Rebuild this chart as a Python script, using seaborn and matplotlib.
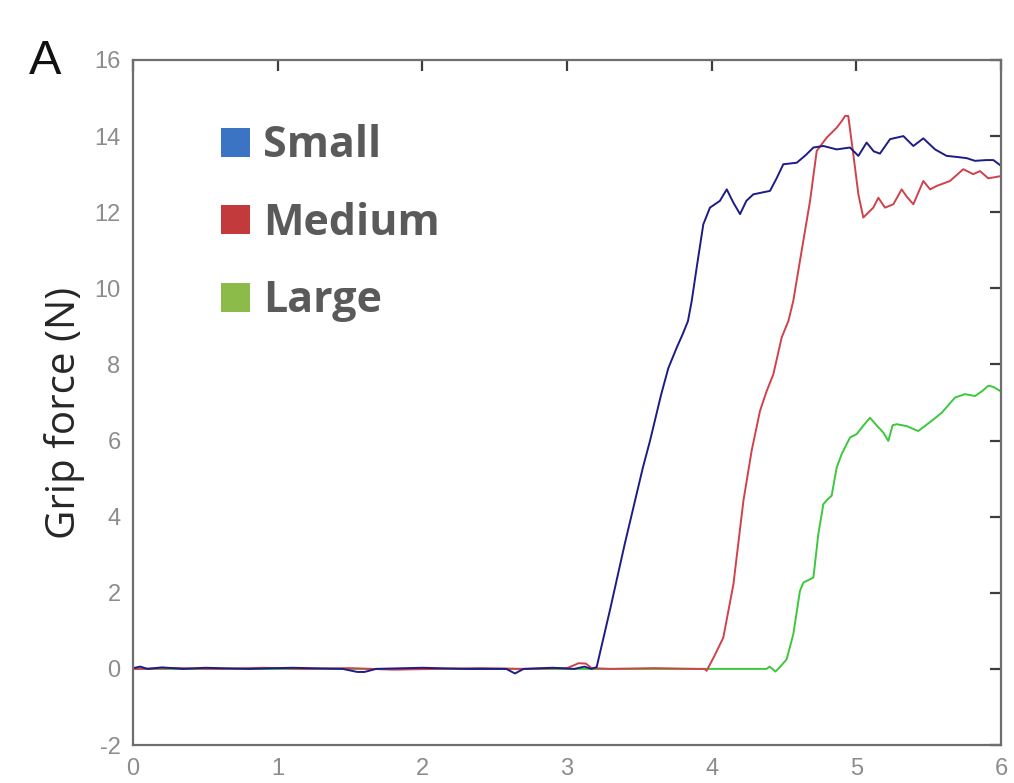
import matplotlib
matplotlib.use("Agg")
import matplotlib.pyplot as plt
from matplotlib import font_manager
from matplotlib.patches import Patch
import numpy as np
import pandas as pd
import seaborn as sns

# Grip force traces (N) over time (s) for the three object sizes
t_small = [0, 0.05, 0.1, 0.2, 0.35, 0.5, 0.8, 1.1, 1.45, 1.55, 1.6, 1.68, 2.0, 2.3,
           2.58, 2.64, 2.7, 2.9, 3.05, 3.12, 3.17, 3.205, 3.30, 3.40, 3.525, 3.574,
           3.65, 3.70, 3.758, 3.80, 3.836, 3.862, 3.896, 3.942, 3.988, 4.057, 4.104,
           4.15, 4.196, 4.24, 4.288, 4.403, 4.45, 4.495, 4.588, 4.65, 4.703, 4.772,
           4.864, 4.956, 5.014, 5.071, 5.12, 5.163, 5.233, 5.325, 5.394, 5.463,
           5.544, 5.624, 5.70, 5.763, 5.820, 5.90, 5.947, 6.0]
f_small = [0.02, 0.06, 0.0, 0.04, 0.0, 0.03, 0.0, 0.03, 0.0, -0.08, -0.08, 0.0, 0.03,
           0.0, 0.0, -0.12, 0.0, 0.03, 0.0, 0.06, 0.0, 0.05, 1.6, 3.3, 5.3, 6.0, 7.2,
           7.9, 8.44, 8.8, 9.14, 9.67, 10.54, 11.68, 12.12, 12.30, 12.60, 12.25,
           11.95, 12.3, 12.47, 12.56, 12.9, 13.26, 13.30, 13.5, 13.70, 13.74, 13.65,
           13.70, 13.48, 13.83, 13.6, 13.54, 13.92, 14.00, 13.74, 13.94, 13.65,
           13.48, 13.45, 13.42, 13.35, 13.37, 13.37, 13.22]

t_medium = [0, 0.3, 0.6, 0.9, 1.2, 1.5, 1.8, 2.1, 2.4, 2.7, 3.0, 3.05, 3.08, 3.13,
            3.17, 3.3, 3.6, 3.9, 3.95, 3.965, 4.02, 4.08, 4.15, 4.219, 4.276, 4.334,
            4.38, 4.426, 4.484, 4.53, 4.564, 4.61, 4.68, 4.726, 4.795, 4.864, 4.90,
            4.922, 4.944, 4.979, 5.014, 5.048, 5.085, 5.117, 5.152, 5.198, 5.256,
            5.313, 5.35, 5.394, 5.463, 5.51, 5.555, 5.647, 5.739, 5.808, 5.855,
            5.912, 6.0]
f_medium = [0.0, 0.02, 0.0, 0.03, 0.0, 0.02, -0.02, 0.0, 0.02, 0.0, 0.02, 0.1, 0.15,
            0.14, 0.02, 0.0, 0.02, 0.0, 0.0, -0.05, 0.35, 0.82, 2.22, 4.41, 5.73,
            6.78, 7.3, 7.74, 8.71, 9.14, 9.67, 10.72, 12.30, 13.61, 13.96, 14.22,
            14.4, 14.53, 14.53, 13.52, 12.47, 11.86, 12.0, 12.12, 12.38, 12.12,
            12.21, 12.60, 12.4, 12.21, 12.82, 12.6, 12.69, 12.82, 13.13, 13.00,
            13.08, 12.89, 12.95]

t_large = [0, 0.5, 1.0, 1.5, 2.0, 2.5, 3.0, 3.5, 4.0, 4.38, 4.40, 4.42, 4.44, 4.46,
           4.518, 4.564, 4.61, 4.634, 4.703, 4.737, 4.772, 4.80, 4.829, 4.864,
           4.898, 4.956, 5.002, 5.05, 5.094, 5.14, 5.186, 5.221, 5.25, 5.279, 5.348,
           5.428, 5.521, 5.59, 5.682, 5.751, 5.82, 5.87, 5.912, 5.947, 6.0]
f_large = [0, 0, 0, 0, 0, 0, 0, 0, 0, 0, 0.06, 0.0, -0.07, 0.0, 0.25, 0.91, 2.05,
           2.27, 2.40, 3.54, 4.33, 4.45, 4.55, 5.29, 5.64, 6.08, 6.17, 6.4, 6.60,
           6.4, 6.21, 5.99, 6.4, 6.43, 6.38, 6.25, 6.52, 6.73, 7.13, 7.22, 7.17,
           7.3, 7.44, 7.41, 7.29]

sizes = ["Small", "Medium", "Large"]
line_colors = {"Small": "#1c1c86", "Medium": "#d2404c", "Large": "#3cc83c"}
legend_colors = {"Small": "#3a74c2", "Medium": "#c23a3c", "Large": "#8cbb4a"}

x_ticks = [0, 1, 2, 3, 4, 5, 6]
y_ticks = [-2, 0, 2, 4, 6, 8, 10, 12, 14, 16]

df = pd.concat([
    pd.DataFrame({"time": t_small, "force": f_small, "size": "Small"}),
    pd.DataFrame({"time": t_medium, "force": f_medium, "size": "Medium"}),
    pd.DataFrame({"time": t_large, "force": f_large, "size": "Large"}),
], ignore_index=True)


def pick_font(candidates):
    for name in candidates:
        try:
            font_manager.findfont(font_manager.FontProperties(family=name),
                                  fallback_to_default=False)
            return name
        except Exception:
            continue
    return "DejaVu Sans"


tick_font = pick_font(["Liberation Sans Narrow", "Liberation Sans"])

sns.set_style("white")
plt.rcParams["font.family"] = [tick_font, "DejaVu Sans"]
plt.rcParams["axes.unicode_minus"] = False

fig = plt.figure(figsize=(10.14, 7.83), dpi=100)
ax = fig.add_axes([0.1312, 0.0485, 0.8560, 0.8749])

sns.lineplot(data=df, x="time", y="force", hue="size",
             hue_order=["Large", "Medium", "Small"], palette=line_colors,
             estimator=None, sort=False, linewidth=1.4, ax=ax, legend=False)

ax.set_xlim(0, 6)
ax.set_ylim(-2, 16)
ax.set_xticks(x_ticks)
ax.set_yticks(y_ticks)
ax.set_xlabel("")
ax.set_ylabel("Grip force (N)", fontsize=29, color="#262626",
              family=["Open Sans", "DejaVu Sans"])
ax.yaxis.set_label_coords(-0.055, 0.485)

for side in ["left", "right", "top", "bottom"]:
    ax.spines[side].set_visible(True)
    ax.spines[side].set_color("#6e6e6e")
    ax.spines[side].set_linewidth(1.6)

ax.tick_params(axis="both", which="both", direction="in", length=8, width=1.6,
               color="#3c3c3c", labelcolor="#8c8c8c", labelsize=17,
               top=True, right=True)
ax.tick_params(axis="x", pad=9)
ax.tick_params(axis="y", pad=9)

handles = [Patch(facecolor=legend_colors[s], edgecolor="none", label=s) for s in sizes]
leg = ax.legend(handles=handles, loc="upper left", bbox_to_anchor=(0.082, 0.931),
                frameon=False, handlelength=0.66, handleheight=0.66,
                handletextpad=0.3, labelspacing=0.8, borderaxespad=0,
                prop={"family": ["Open Sans", "DejaVu Sans"], "weight": "bold",
                      "size": 31})
for txt in leg.get_texts():
    txt.set_color("#5a5a5a")

fig.text(0.029, 0.905, "A", fontsize=35, color="#111111",
         family=["Liberation Sans", "DejaVu Sans"])

fig.savefig("out.png", dpi=100, facecolor="white")
